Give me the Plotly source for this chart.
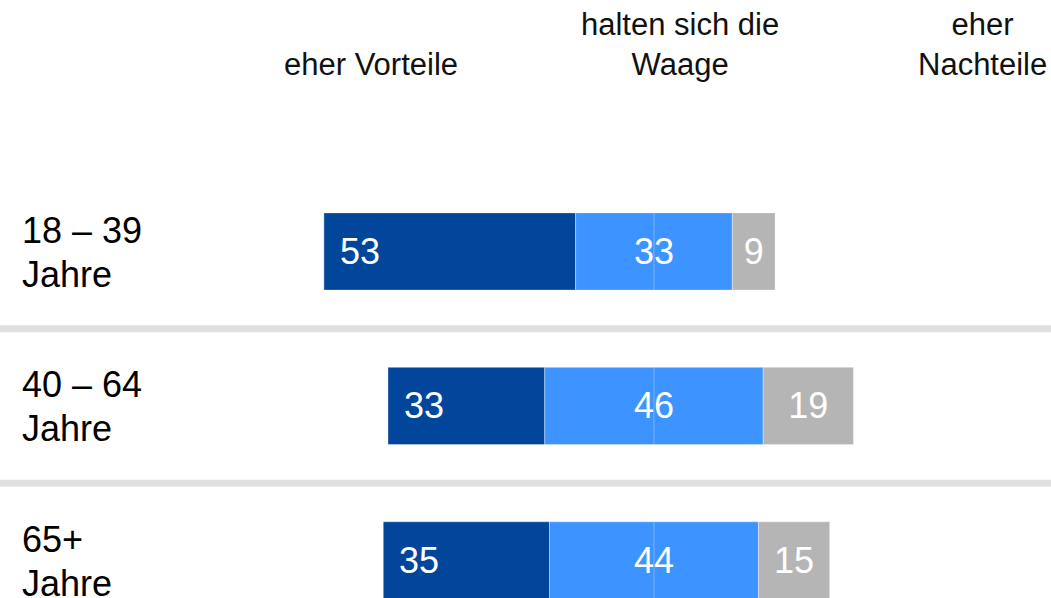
"""Diverging stacked bars: Vorteile / Waage / Nachteile by age group."""

import plotly.graph_objects as go

groups = ["18 – 39", "40 – 64", "65+"]
group_suffix = "Jahre"
vorteile = [53, 33, 35]
waage = [33, 46, 44]
nachteile = [9, 19, 15]
headers = ["eher Vorteile", "halten sich die<br>Waage", "eher<br>Nachteile"]

DARK = "#02469b"
MID = "#3d93ff"
GRAY = "#b5b5b5"
FONT = "Liberation Sans, Arial, sans-serif"

rows = list(range(len(groups)))
# bars are centred on the middle of the neutral segment
base_v = [-(v + w / 2) for v, w in zip(vorteile, waage)]
base_w = [-w / 2 for w in waage]
base_n = [w / 2 for w in waage]

edge = {"color": "rgba(255,255,255,0.35)", "width": 1}
bar_font = {"size": 36, "color": "white", "family": FONT}

fig = go.Figure()
fig.add_trace(
    go.Bar(
        y=rows, x=vorteile, base=base_v, orientation="h", width=0.5,
        marker={"color": DARK, "line": edge}, hoverinfo="skip",
    )
)
fig.add_trace(
    go.Bar(
        y=rows, x=waage, base=base_w, orientation="h", width=0.5,
        marker={"color": MID, "line": edge},
        text=waage, textposition="inside", insidetextanchor="middle",
        textfont=bar_font, hoverinfo="skip",
    )
)
fig.add_trace(
    go.Bar(
        y=rows, x=nachteile, base=base_n, orientation="h", width=0.5,
        marker={"color": GRAY, "line": edge},
        text=nachteile, textposition="inside", insidetextanchor="middle",
        textfont=bar_font, hoverinfo="skip",
    )
)

# labels of the dark segment sit near its left edge
for r, b, v in zip(rows, base_v, vorteile):
    fig.add_annotation(
        x=b, y=r, text=str(v), showarrow=False, xanchor="left", xshift=14,
        font=bar_font,
    )

# faint centre line through the neutral segment
for r in rows:
    fig.add_shape(
        type="line", x0=0, x1=0, y0=r - 0.25, y1=r + 0.25,
        line={"color": "rgba(255,255,255,0.3)", "width": 1},
    )

# row separators
for r in rows[:-1]:
    fig.add_shape(
        type="line", xref="paper", x0=0, x1=1, y0=r + 0.5, y1=r + 0.5,
        line={"color": "#e0e0e0", "width": 7},
    )

# row labels, two lines a little tighter than plotly's default spacing
for r, g in zip(rows, groups):
    for line, shift in ((g, 21), (group_suffix, -23)):
        fig.add_annotation(
            xref="paper", x=20 / 1051, y=r, yshift=shift, text=line, showarrow=False,
            xanchor="left", yanchor="middle", align="left",
            font={"size": 36, "color": "black", "family": FONT},
        )

for hx, h in zip([0.353, 0.647, 0.935], headers):
    fig.add_annotation(
        xref="paper", yref="paper", x=hx, y=1 - 84 / 598, text=h, showarrow=False,
        xanchor="center", yanchor="bottom", align="center",
        font={"size": 31, "color": "#111111", "family": FONT},
    )

fig.update_layout(
    width=1051,
    height=598,
    barmode="overlay",
    showlegend=False,
    margin={"t": 0, "b": 0, "l": 0, "r": 0},
    paper_bgcolor="white",
    plot_bgcolor="white",
    xaxis={"range": [-137.7, 83.6], "visible": False, "fixedrange": True},
    yaxis={"range": [2.243, -1.628], "visible": False, "fixedrange": True},
)

fig.write_html(
    "out.html",
    config={"displayModeBar": False},
    post_script="document.body.style.margin = '0';",
)
